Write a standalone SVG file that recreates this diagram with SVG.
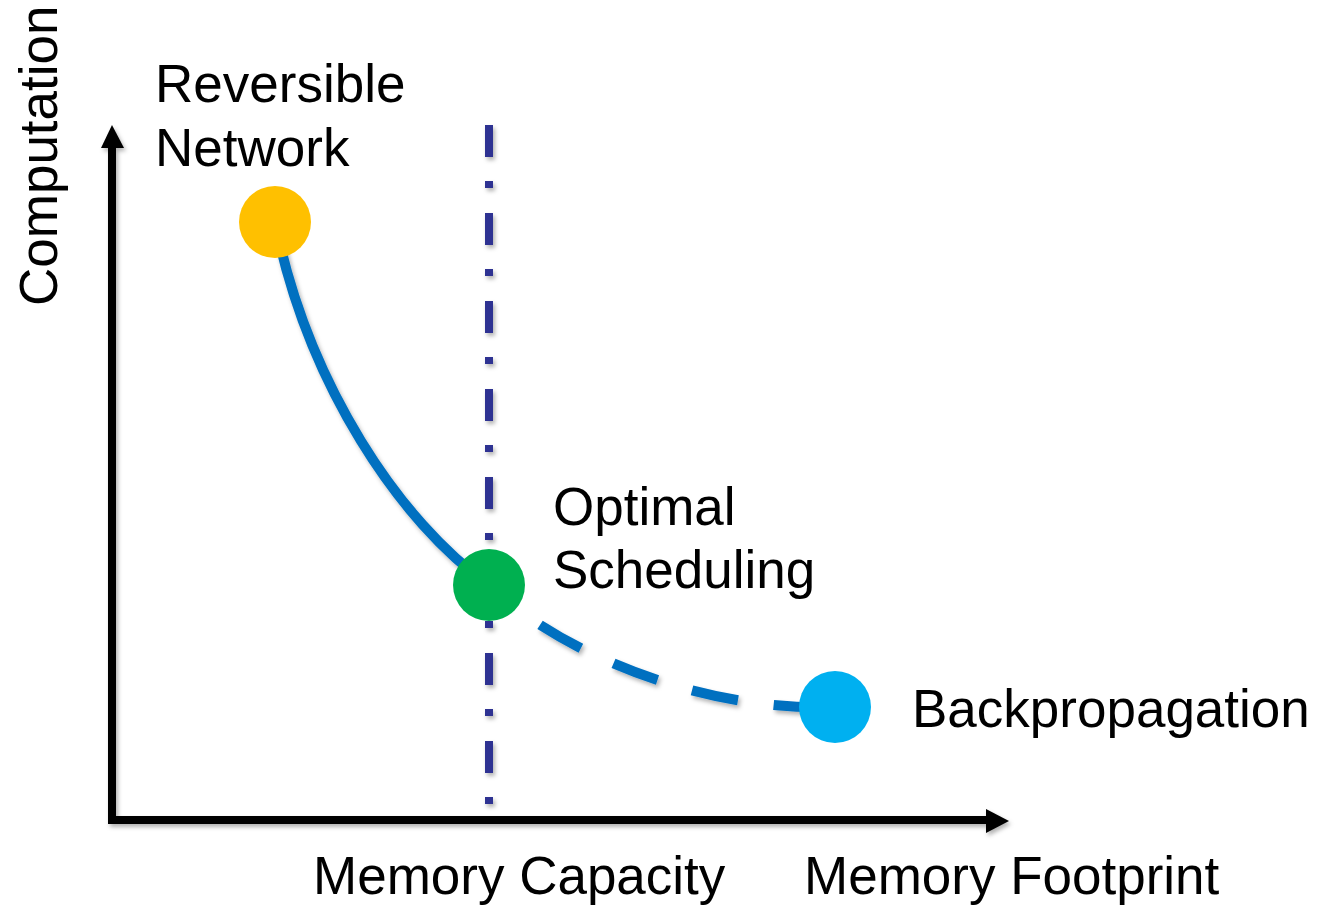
<svg xmlns="http://www.w3.org/2000/svg" width="1319" height="905" viewBox="0 0 1319 905">
  <defs>
    <filter id="shadow" x="-20%" y="-20%" width="140%" height="140%">
      <feDropShadow dx="2" dy="3" stdDeviation="2" flood-color="#000" flood-opacity="0.3"/>
    </filter>
  </defs>
  <style>
    .label { font-family: "Liberation Sans", Arial, sans-serif; font-size: 53px; fill: #000; }
    .axis { fill: none; stroke: #000; stroke-width: 8; stroke-linejoin: miter; }
    .head { fill: #000; }
    .curve { fill: none; stroke: #0070C0; stroke-width: 10; }
    .capacity { fill: none; stroke: #2E3192; stroke-width: 8; stroke-dasharray: 32 24 7 25; }
  </style>
  <rect width="1319" height="905" fill="#fff"/>

  <!-- axes -->
  <g id="axes" filter="url(#shadow)">
    <polyline class="axis" points="112,146 112,820 988,820"/>
    <polygon class="head" points="112,125 101,148 124,148"/>
    <polygon class="head" points="1009,821 986,809 986,833"/>
  </g>

  <!-- connectors: trade-off curve and memory capacity limit -->
  <g id="connectors" filter="url(#shadow)">
    <line class="capacity" x1="489" y1="125" x2="489" y2="806"/>
    <path class="curve" d="M275,222 C308,385 400,522 489,585"/>
    <path class="curve" d="M489,585 C550,645 690,712 835,707" stroke-dasharray="47 36" stroke-dashoffset="18"/>
  </g>

  <!-- nodes -->
  <g id="reversible-network">
    <circle cx="275" cy="222" r="36" fill="#FFC000"/>
    <text class="label" x="155" y="102">Reversible</text>
    <text class="label" x="155" y="166">Network</text>
  </g>
  <g id="optimal-scheduling">
    <circle cx="489" cy="585" r="36" fill="#00B050"/>
    <text class="label" x="553" y="525">Optimal</text>
    <text class="label" x="553" y="588">Scheduling</text>
  </g>
  <g id="backpropagation">
    <circle cx="835" cy="707" r="36" fill="#00B0F0"/>
    <text class="label" x="912" y="727">Backpropagation</text>
  </g>

  <!-- axis labels -->
  <g id="labels">
    <text class="label" transform="translate(57,306) rotate(-90)">Computation</text>
    <text class="label" x="313" y="894">Memory Capacity</text>
    <text class="label" x="804" y="894">Memory Footprint</text>
  </g>
</svg>
